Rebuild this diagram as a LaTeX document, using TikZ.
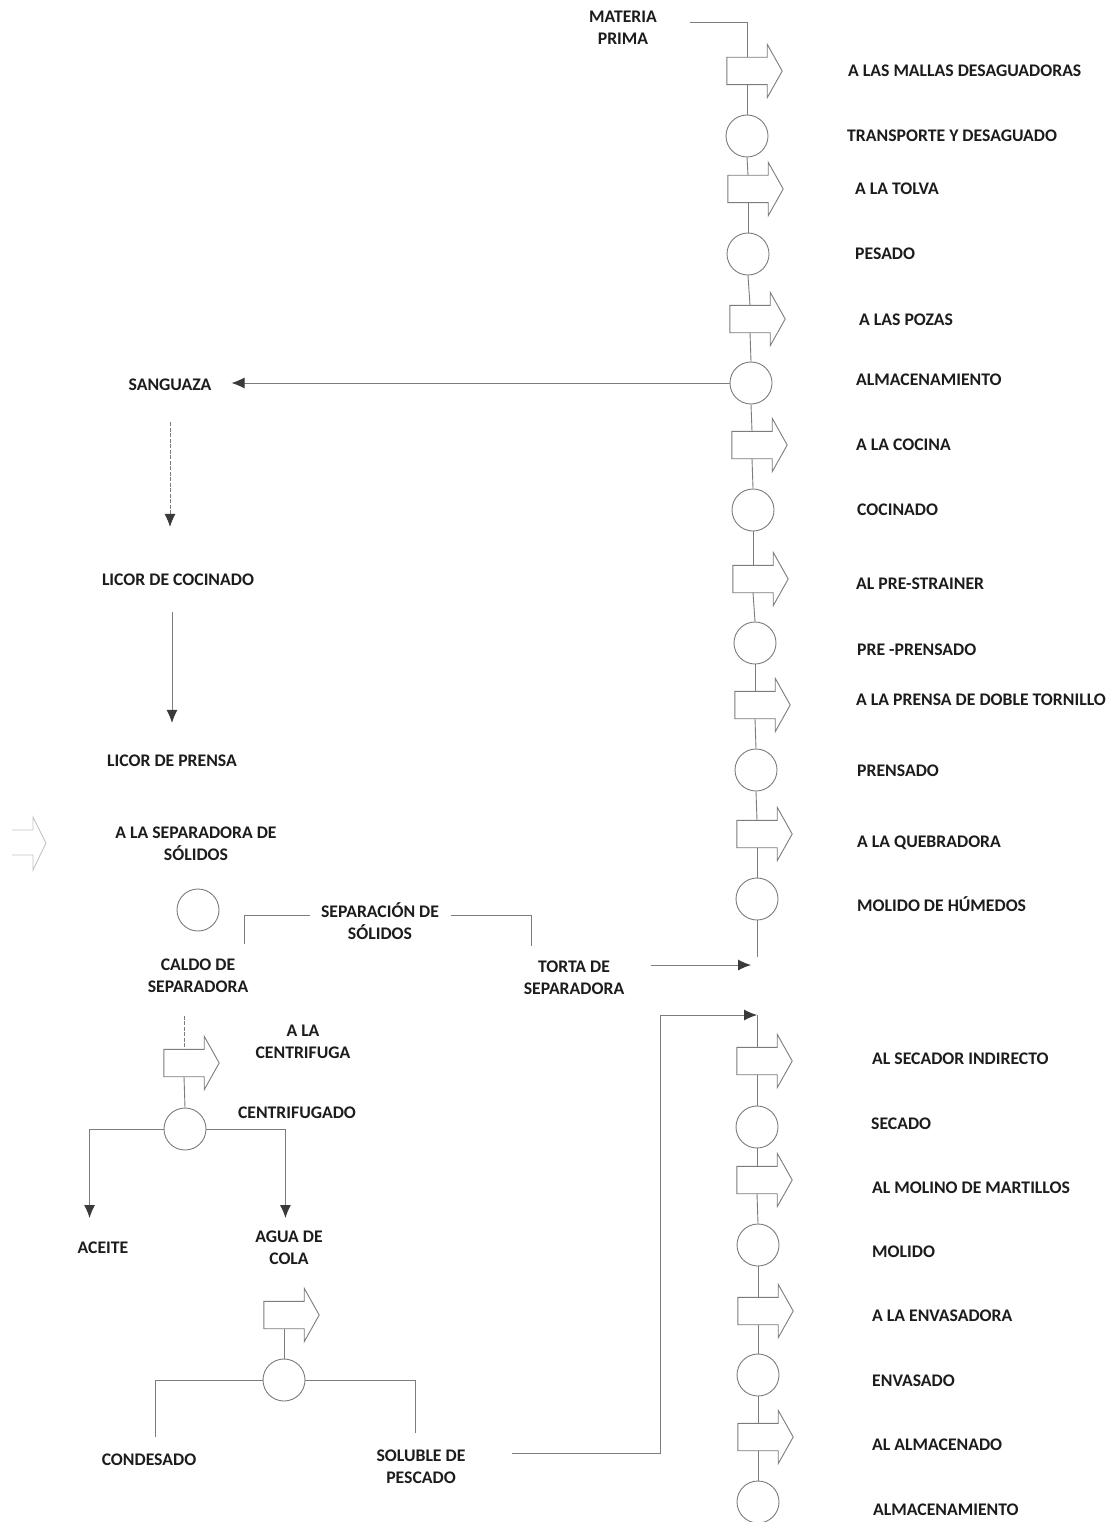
\documentclass[tikz,border=0pt]{standalone}
\usepackage{fontspec}
\setmainfont{Carlito}
\usetikzlibrary{arrows.meta,calc}
\definecolor{lncol}{HTML}{7C7C7C}
\definecolor{txtcol}{HTML}{1C1C1C}
\definecolor{tipcol}{HTML}{3A3A3A}
\tikzset{
  lbl/.style={font=\fontsize{17.7}{22}\selectfont\bfseries, text=txtcol, inner sep=0pt, align=center},
  rlbl/.style={lbl, anchor=base west, align=left},
  proc/.style={circle, draw=lncol, line width=0.9pt, minimum size=42pt, inner sep=0pt},
  barr/.style={rectangle, minimum width=40pt, minimum height=27pt, inner sep=0pt},
  shp/.style={draw=lncol, line width=0.9pt, fill=white, line join=miter},
  ln/.style={draw=lncol, line width=0.9pt},
  dsh/.style={ln, dash pattern=on 4pt off 1.5pt},
  tipstyle/.style={-{Latex[length=13pt,width=11pt,color=tipcol]}},
  arr/.style={ln, tipstyle},
  faint/.style={draw=lncol!45, line width=0.9pt},
}
\newcommand\BlockArr[2]{%
  \node[barr] (#1) at (#2) {};
  \draw[shp] (#1.north west) -- (#1.north east) -- ([yshift=13pt]#1.north east)
    -- ([xshift=15pt]#1.east) -- ([yshift=-13pt]#1.south east) -- (#1.south east)
    -- (#1.south west) -- cycle;}
\begin{document}
\begin{tikzpicture}[x=1pt,y=-1pt]
\path[use as bounding box, fill=white] (0,0) rectangle (1115,1522);

% ---------- main column ----------
\BlockArr{a1}{747,71}
\node[proc] (c2) at (747,136) {};
\BlockArr{a3}{748,189}
\node[proc] (c4) at (748,254) {};
\BlockArr{a5}{750,319}
\node[proc] (c6) at (751,383) {};
\BlockArr{a7}{752,445}
\node[proc] (c8) at (753,510) {};
\BlockArr{a9}{753,579}
\node[proc] (c10) at (755,643) {};
\BlockArr{a11}{755,705}
\node[proc] (c12) at (756,770) {};
\BlockArr{a13}{757,834}
\node[proc] (c14) at (757,899) {};
\BlockArr{a15}{757,1061}
\node[proc] (c16) at (757,1127) {};
\BlockArr{a17}{757,1180}
\node[proc] (c18) at (758,1245) {};
\BlockArr{a19}{758,1311}
\node[proc] (c20) at (758,1375) {};
\BlockArr{a21}{758,1437}
\node[proc] (c22) at (758,1502) {};

\draw[ln] (a1.south) -- (c2.north);
\draw[ln] (c2.south) -- (a3.north);
\draw[ln] (a3.south) -- (c4.north);
\draw[ln] (c4.south) -- (a5.north);
\draw[ln] (a5.south) -- (c6.north);
\draw[ln] (c6.south) -- (a7.north);
\draw[ln] (a7.south) -- (c8.north);
\draw[ln] (c8.south) -- (a9.north);
\draw[ln] (a9.south) -- (c10.north);
\draw[ln] (c10.south) -- (a11.north);
\draw[ln] (a11.south) -- (c12.north);
\draw[ln] (c12.south) -- (a13.north);
\draw[ln] (a13.south) -- (c14.north);
\coordinate (colend) at (757,957);
\draw[ln] (c14.south) -- (colend);
\coordinate (tin) at (751,965);
\coordinate (sjoin) at (757,1015);
\draw[ln] (sjoin) -- (a15.north);
\draw[ln] (a15.south) -- (c16.north);
\draw[ln] (c16.south) -- (a17.north);
\draw[ln] (a17.south) -- (c18.north);
\draw[ln] (c18.south) -- (a19.north);
\draw[ln] (a19.south) -- (c20.north);
\draw[ln] (c20.south) -- (a21.north);
\draw[ln] (a21.south) -- (c22.north);

% ---------- main column labels ----------
\node[rlbl] (t1) at (848,76.6) {A LAS MALLAS DESAGUADORAS};
\node[rlbl] (t2) at (847,141.6) {TRANSPORTE Y DESAGUADO};
\node[rlbl] (t3) at (855,194.6) {A LA TOLVA};
\node[rlbl] (t4) at (855,259.6) {PESADO};
\node[rlbl] (t5) at (859,325.6) {A LAS POZAS};
\node[rlbl] (t6) at (856,385.6) {ALMACENAMIENTO};
\node[rlbl] (t7) at (856,450.6) {A LA COCINA};
\node[rlbl] (t8) at (857,515.6) {COCINADO};
\node[rlbl] (t9) at (856,589.6) {AL PRE-STRAINER};
\node[rlbl] (t10) at (857,655.6) {PRE -PRENSADO};
\node[rlbl] (t11) at (856,705.6) {A LA PRENSA DE DOBLE TORNILLO};
\node[rlbl] (t12) at (857,776.6) {PRENSADO};
\node[rlbl] (t13) at (857,847.6) {A LA QUEBRADORA};
\node[rlbl] (t14) at (857,911.6) {MOLIDO DE HÚMEDOS};
\node[rlbl] (t15) at (872,1064.6) {AL SECADOR INDIRECTO};
\node[rlbl] (t16) at (871,1129.6) {SECADO};
\node[rlbl] (t17) at (872,1193.6) {AL MOLINO DE MARTILLOS};
\node[rlbl] (t18) at (872,1257.6) {MOLIDO};
\node[rlbl] (t19) at (872,1321.6) {A LA ENVASADORA};
\node[rlbl] (t20) at (872,1386.6) {ENVASADO};
\node[rlbl] (t21) at (872,1450.6) {AL ALMACENADO};
\node[rlbl] (t22) at (873,1515.6) {ALMACENAMIENTO};

% ---------- materia prima ----------
\node[lbl] (mp) at (623,28) {MATERIA\\PRIMA};
\draw[ln] ([xshift=33pt,yshift=6pt]mp.east) -| (a1.north);

% ---------- sanguaza branch ----------
\node[lbl] (sang) at (170,385) {SANGUAZA};
\draw[arr] (c6.west) -- ([xshift=20pt]sang.east |- c6.west);
\node[lbl] (licc) at (178,580) {LICOR DE COCINADO};
\node[lbl] (licp) at (172,761) {LICOR DE PRENSA};
\draw[dsh, tipstyle, shorten <=31pt, shorten >=47pt]
  (sang.south) -- (sang.south |- licc.north);
\draw[arr, shorten <=26pt, shorten >=32pt] (licc.south -| licp.north) -- (licp.north);

% ---------- separadora de solidos ----------
\draw[faint] (12,830) -- (33,830) -- (33,817) -- (46,843) -- (33,870) -- (33,855) -- (12,855);
\node[lbl] (sepa) at (196,844) {A LA SEPARADORA DE\\SÓLIDOS};
\node[proc] (csep) at (198,910) {};
\node[lbl] (sepl) at (380,921) {SEPARACIÓN DE\\SÓLIDOS};
\node[lbl] (caldo) at (198,975.5) {CALDO DE\\SEPARADORA};
\node[lbl] (torta) at (574,978) {TORTA DE\\SEPARADORA};
\draw[ln, shorten >=14pt] ([xshift=-11pt,yshift=6pt]sepl.west) -| ([xshift=-4pt]caldo.north east);
\draw[ln, shorten >=15pt] ([xshift=12pt,yshift=6pt]sepl.east) -| ([xshift=8pt]torta.north west);
\draw[arr] ([xshift=27pt]torta.east |- tin) -- (tin);

% ---------- centrifuga ----------
\BlockArr{acen}{184,1063}
\node[lbl] (acl) at (303,1042) {A LA\\CENTRIFUGA};
\draw[dsh, shorten <=23pt] (caldo.south -| acen.north) -- (acen.north);
\node[proc] (ccen) at (185,1129) {};
\draw[ln] (acen.south) -- (ccen.north);
\node[lbl] (cfl) at (297,1113) {CENTRIFUGADO};
\draw[arr] (ccen.west) -- ++(-74,0) -- ++(0,89);
\draw[arr] (ccen.east) -- ++(79,0) -- ++(0,89);
\node[lbl] (aceite) at (103,1248) {ACEITE};
\node[lbl] (agua) at (289,1248) {AGUA DE\\COLA};

% ---------- evaporacion ----------
\BlockArr{aev}{284,1315}
\node[proc] (cev) at (284,1380) {};
\draw[ln] (aev.south) -- (cev.north);
\draw[ln] (cev.west) -- ++(-107,0) -- ++(0,57);
\draw[ln] (cev.east) -- ++(110,0) -- ++(0,53);
\node[lbl] (cond) at (149,1460) {CONDESADO};
\node[lbl] (sol) at (421,1467) {SOLUBLE DE\\PESCADO};
\draw[arr] ([xshift=46pt,yshift=14pt]sol.east) -- ++(149,0) |- (sjoin);
\end{tikzpicture}
\end{document}
